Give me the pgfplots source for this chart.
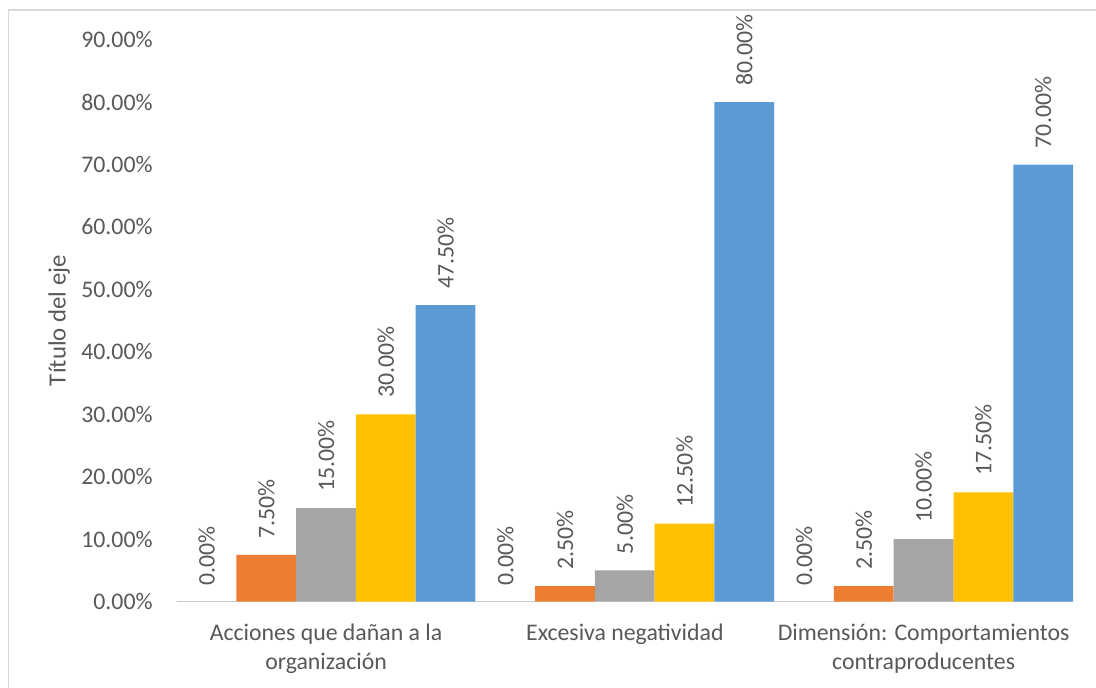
\documentclass[border=0pt]{standalone}
\usepackage{pgfplots}
\pgfplotsset{compat=1.18}
\usepackage{fontspec}
\setmainfont{Carlito}
\definecolor{txt}{HTML}{595959}
\definecolor{bord}{HTML}{D9D9D9}
\definecolor{s1}{HTML}{4472C4}
\definecolor{s2}{HTML}{ED7D31}
\definecolor{s3}{HTML}{A5A5A5}
\definecolor{s4}{HTML}{FFC000}
\definecolor{s5}{HTML}{5B9BD5}
\begin{document}
\begin{tikzpicture}
\useasboundingbox (0,0) rectangle (548pt,344pt);
\fill[white] (0,0) rectangle (548pt,344pt);
\draw[bord, line width=0.75pt] (4.15pt,0) -- (4.15pt,339pt) -- (548pt,339pt);
\begin{axis}[
  at={(88.35pt,43.15pt)}, anchor=south west,
  scale only axis, width=448.15pt, height=281.05pt,
  xmin=-0.5, xmax=2.5, ymin=0, ymax=90,
  ybar=0pt, bar width=0.2,
  clip=false,
  axis x line*=bottom, axis y line*=left,
  y axis line style={draw=none},
  x axis line style={draw=bord, line width=0.75pt},
  major tick length=0pt,
  /pgf/number format/assume math mode=true,
  ytick={0,10,...,90},
  yticklabel={\pgfmathprintnumber[fixed,fixed zerofill,precision=2]{\tick}\%},
  xtick={0,1,2},
  xticklabels={{Acciones que dañan a la\\organización},{Excesiva negatividad},{Dimensión: Comportamientos\\contraproducentes}},
  tick label style={font=\fontsize{11.9pt}{14.6pt}\selectfont, text=txt},
  xticklabel style={align=center, anchor=north, inner sep=0pt, yshift=-11pt},
  yticklabel style={anchor=east, inner sep=0pt, xshift=-11.85pt},
  ylabel={Título del eje},
  ylabel style={at={(axis description cs:-0.1313,0.5)}, anchor=center, font=\fontsize{12.4pt}{15pt}\selectfont, text=txt},
  nodes near coords={\pgfmathprintnumber[fixed,fixed zerofill,precision=2]{\pgfplotspointmeta}\%},
  every node near coord/.append style={font=\fontsize{11.9pt}{14.6pt}\selectfont, text=txt, yshift=8pt, rotate=90, anchor=west, inner sep=0pt},
]
\addplot[fill=s1, draw=none] coordinates {(0,0) (1,0) (2,0)};
\addplot[fill=s2, draw=none] coordinates {(0,7.5) (1,2.5) (2,2.5)};
\addplot[fill=s3, draw=none] coordinates {(0,15) (1,5) (2,10)};
\addplot[fill=s4, draw=none] coordinates {(0,30) (1,12.5) (2,17.5)};
\addplot[fill=s5, draw=none] coordinates {(0,47.5) (1,80) (2,70)};
\end{axis}
\end{tikzpicture}
\end{document}
